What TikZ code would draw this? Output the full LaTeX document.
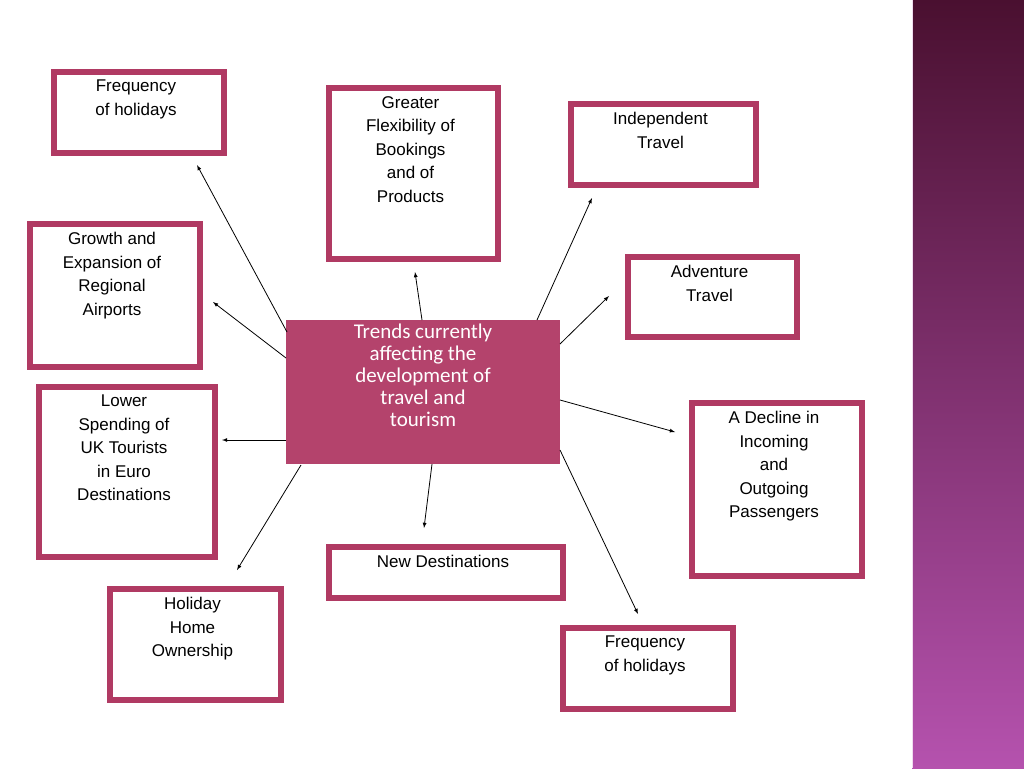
\documentclass[tikz,border=0pt]{standalone}
\usepackage{fontspec}
\setmainfont{Liberation Sans}
\newfontfamily\ctrfont{Carlito}
\begin{document}
\begin{tikzpicture}[x=1pt,y=-1pt,
  bx/.style={draw=boxc,line width=6pt,fill=white,inner sep=0pt,align=center,font=\fontsize{17}{23.5}\selectfont,text=black},
  ar/.style={-latex,line width=0.8pt}]
\definecolor{boxc}{HTML}{B03A63}
\definecolor{ctr}{HTML}{B4436C}
\definecolor{stripT}{HTML}{4A1030}
\definecolor{stripB}{HTML}{B552AE}
\useasboundingbox (0,0) rectangle (1024,768);
\fill[white] (0,0) rectangle (1024,768);
\shade[top color=stripT,bottom color=stripB] (912,0) rectangle (1024,768);
\draw[white!80!stripB,line width=1pt] (912,0) -- (912,768);
\newcommand{\bxn}[6]{\node[bx,minimum width=#4-#2-6,minimum height=#5-#3-6,anchor=north west] (#1) at (#2+3,#3+3) {};
  \node[anchor=north,align=center,font=\fontsize{17}{23.5}\selectfont,inner sep=0pt] at (#2/2+#4/2,#3+14) {#6};}
\bxn{a}{48}{66}{224}{153}{Frequency\\of holidays}
\bxn{b}{323}{82}{498}{259}{Greater\\Flexibility of\\Bookings\\and of\\Products}
\bxn{c}{565}{98}{756}{185}{Independent\\Travel}
\bxn{d}{24}{218}{200}{367}{Growth and\\Expansion of\\Regional\\Airports}
\bxn{e}{622}{251}{797}{337}{Adventure\\Travel}
\bxn{f}{33}{381}{215}{557}{Lower\\Spending of\\UK Tourists\\in Euro\\Destinations}
\bxn{g}{686}{397}{862}{576}{A Decline in\\Incoming\\and\\Outgoing\\Passengers}
\bxn{h}{323}{541}{563}{598}{New Destinations}
\bxn{i}{104}{583}{281}{700}{Holiday\\Home\\Ownership}
\bxn{j}{557}{622}{733}{709}{Frequency\\of holidays}
\node[fill=ctr,minimum width=274,minimum height=144,anchor=north west,inner sep=0pt] (m) at (286,320) {};
\node[anchor=north,align=center,text=white,font=\ctrfont\fontsize{21}{22}\selectfont,inner sep=0pt] at (423,324) {Trends currently\\affecting the\\development of\\travel and\\tourism};
\coordinate (ta) at (197,165); \coordinate (td) at (213,302); \coordinate (tf) at (222,440);
\coordinate (ti) at (237,570); \coordinate (tb) at (415,272); \coordinate (tc) at (592,198);
\coordinate (te) at (609,296); \coordinate (tg) at (675,432); \coordinate (th) at (424,528);
\coordinate (tj) at (638,614);
\draw[ar] (287,332) -- (ta);
\draw[ar] (286,358) -- (td);
\draw[ar] (286,440) -- (tf);
\draw[ar] (301,465) -- (ti);
\draw[ar] (422,320) -- (tb);
\draw[ar] (537,320) -- (tc);
\draw[ar] (560,344) -- (te);
\draw[ar] (560,400) -- (tg);
\draw[ar] (432,464) -- (th);
\draw[ar] (560,450) -- (tj);
\end{tikzpicture}
\end{document}
